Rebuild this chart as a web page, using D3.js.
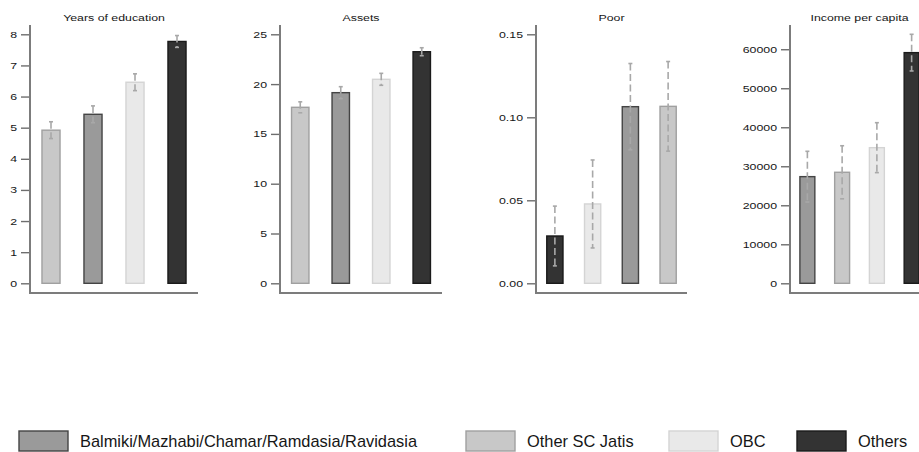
<!DOCTYPE html>
<html>
<head>
<meta charset="utf-8">
<script src="https://cdn.jsdelivr.net/npm/d3@7"></script>
<style>
  body { margin: 0; background: #fff; }
  svg { display: block; font-family: "Liberation Sans", Arial, Helvetica, sans-serif; }
</style>
</head>
<body>
<svg id="chart" width="919" height="452"></svg>
<script>
// Caste groups and their fills
const groups = ["Balmiki/Mazhabi/Chamar/Ramdasia/Ravidasia", "Other SC Jatis", "OBC", "Others"];
const groupFill = ["#9a9a9a", "#c8c8c8", "#e9e9e9", "#333333"];
const groupStroke = ["#444444", "#a0a0a0", "#d4d4d4", "#1a1a1a"];

// Years of education (bars sorted by mean)
const eduGroups = ["Other SC Jatis", "Balmiki/Mazhabi/Chamar/Ramdasia/Ravidasia", "OBC", "Others"];
const eduMean = [4.92, 5.43, 6.46, 7.77];
const eduErr = [0.27, 0.27, 0.27, 0.19];
const eduTicks = [0, 1, 2, 3, 4, 5, 6, 7, 8];

// Asset index
const assetGroups = ["Other SC Jatis", "Balmiki/Mazhabi/Chamar/Ramdasia/Ravidasia", "OBC", "Others"];
const assetMean = [17.67, 19.14, 20.48, 23.25];
const assetErr = [0.55, 0.6, 0.6, 0.4];
const assetTicks = [0, 5, 10, 15, 20, 25];

// Share poor
const poorGroups = ["Others", "OBC", "Balmiki/Mazhabi/Chamar/Ramdasia/Ravidasia", "Other SC Jatis"];
const poorMean = [0.0285, 0.0478, 0.1064, 0.1066];
const poorErr = [0.018, 0.0265, 0.026, 0.027];
const poorTicks = [0, 0.05, 0.10, 0.15];

// Income per capita
const incGroups = ["Balmiki/Mazhabi/Chamar/Ramdasia/Ravidasia", "Other SC Jatis", "OBC", "Others"];
const incMean = [27340, 28460, 34770, 59130];
const incErr = [6500, 6800, 6400, 4700];
const incTicks = [0, 10000, 20000, 30000, 40000, 50000, 60000];

const panels = [
  { title: "Years of education", groups: eduGroups, mean: eduMean, err: eduErr, ticks: eduTicks, fmt: d3.format("d") },
  { title: "Assets", groups: assetGroups, mean: assetMean, err: assetErr, ticks: assetTicks, fmt: d3.format("d") },
  { title: "Poor", groups: poorGroups, mean: poorMean, err: poorErr, ticks: poorTicks, fmt: d3.format(".2f") },
  { title: "Income per capita", groups: incGroups, mean: incMean, err: incErr, ticks: incTicks, fmt: d3.format("d") }
];

// ---- layout ----
const plotLeft = [30, 280, 536, 790];
const plotWidth = [168, 162, 151, 139];
const yZero = 283.3, yTop = 34.3;     // value range of every panel
const axisTopY = 25, axisBaseY = 293; // extent of the L-shaped axis lines
const SX = 1.3;                       // wide glyphs for the small labels
const smallFont = 9.5;
const inkColor = "#161616";

const svg = d3.select("#chart");
const fillOf = name => groupFill[groups.indexOf(name)];
const strokeOf = name => groupStroke[groups.indexOf(name)];

panels.forEach((p, k) => {
  const x0 = plotLeft[k], w = plotWidth[k];
  const g = svg.append("g");

  const ymax = Math.max(p.ticks[p.ticks.length - 1], d3.max(p.mean, (m, i) => m + p.err[i]));
  const y = d3.scaleLinear().domain([0, ymax]).range([yZero, yTop]);
  const x = d3.scaleBand().domain(p.groups).range([x0, x0 + w])
    .paddingInner(0.57).paddingOuter(0.285);

  // title
  g.append("text")
    .attr("transform", `translate(${x0 + w / 2},20.5) scale(${SX},1)`)
    .attr("text-anchor", "middle")
    .attr("font-size", smallFont)
    .attr("fill", inkColor)
    .text(p.title);

  // y axis ticks and labels
  const ax = g.append("g")
    .attr("transform", `translate(${x0 - 1},0)`)
    .call(d3.axisLeft(y).tickValues(p.ticks).tickFormat(p.fmt).tickSize(8).tickPadding(4));
  ax.select(".domain").remove();
  ax.selectAll(".tick line").attr("stroke", "#6e6e6e").attr("stroke-width", 1.4);
  ax.selectAll(".tick text")
    .attr("x", -12 / SX)
    .attr("transform", `scale(${SX},1)`)
    .attr("font-size", smallFont)
    .attr("font-family", "Liberation Sans, Arial, sans-serif")
    .attr("fill", inkColor);

  // L-shaped axis lines
  g.append("path")
    .attr("d", `M${x0},${axisTopY}V${axisBaseY}H${x0 + w}`)
    .attr("fill", "none")
    .attr("stroke", "#7c7c7c")
    .attr("stroke-width", 2);

  const rows = p.groups.map((name, i) => ({ name, v: p.mean[i], e: p.err[i] }));

  // bars
  g.selectAll("rect.bar").data(rows).join("rect")
    .attr("class", "bar")
    .attr("x", d => x(d.name))
    .attr("width", x.bandwidth())
    .attr("y", d => y(d.v))
    .attr("height", d => y(0) - y(d.v))
    .attr("fill", d => fillOf(d.name))
    .attr("stroke", d => strokeOf(d.name))
    .attr("stroke-width", 1.4);

  // confidence intervals
  const eb = g.selectAll("g.err").data(rows).join("g").attr("class", "err")
    .attr("stroke", "#a8a8a8").attr("stroke-width", 1.6).attr("fill", "none");
  const cx = d => x(d.name) + x.bandwidth() / 2;
  eb.append("line")
    .attr("x1", cx).attr("x2", cx)
    .attr("y1", d => y(d.v + d.e)).attr("y2", d => y(d.v - d.e))
    .attr("stroke-dasharray", "7,3.5");
  eb.append("line")
    .attr("x1", d => cx(d) - 2).attr("x2", d => cx(d) + 2)
    .attr("y1", d => y(d.v + d.e)).attr("y2", d => y(d.v + d.e));
  eb.append("line")
    .attr("x1", d => cx(d) - 2).attr("x2", d => cx(d) + 2)
    .attr("y1", d => y(d.v - d.e)).attr("y2", d => y(d.v - d.e));
});

// legend
const legendX = [19, 466, 669, 797];
const leg = svg.append("g").selectAll("g").data(groups).join("g")
  .attr("transform", (d, i) => `translate(${legendX[i]},431)`);
leg.append("rect")
  .attr("width", 49).attr("height", 20)
  .attr("fill", (d, i) => groupFill[i])
  .attr("stroke", (d, i) => groupStroke[i])
  .attr("stroke-width", 1.4);
leg.append("text")
  .attr("x", 61).attr("y", 16)
  .attr("font-size", 16.4)
  .attr("fill", inkColor)
  .text(d => d);
</script>
</body>
</html>
